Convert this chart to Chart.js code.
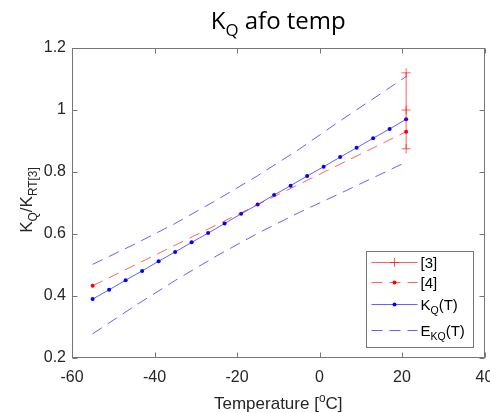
<!DOCTYPE html>
<html>
<head>
<meta charset="utf-8">
<script src="https://cdn.jsdelivr.net/npm/chart.js@4.4.0/dist/chart.umd.min.js"></script>
<style>
  html, body { margin: 0; padding: 0; background: #fff; overflow: hidden; }
  canvas { display: block; }
</style>
</head>
<body>
<canvas id="kqChart" width="490" height="413"></canvas>
<script>
// fitted K_Q(T), sampled every 4 degC
const temps = [-55, -51, -47, -43, -39, -35, -31, -27, -23, -19, -15, -11, -7, -3, 1, 5, 9, 13, 17, 21];
const kqFit = [0.390, 0.420, 0.451, 0.481, 0.512, 0.542, 0.573, 0.603, 0.634, 0.665,
               0.695, 0.726, 0.756, 0.787, 0.817, 0.848, 0.878, 0.909, 0.939, 0.970];

// uncertainty envelope E_KQ(T)
const bandTemps = [-55, -45, -35, -25, -15, -5, 5, 15, 21];
const bandUpper = [0.502, 0.566, 0.634, 0.709, 0.788, 0.873, 0.965, 1.054, 1.108];
const bandLower = [0.278, 0.366, 0.450, 0.529, 0.602, 0.669, 0.731, 0.794, 0.832];

// reference [4]: straight line, end points only
const ref4Temps = [-55, 21];
const ref4 = [0.433, 0.930];

// reference [3]: room temperature value with its spread
const ref3Temps = [21, 21, 21];
const ref3 = [0.875, 1.0, 1.12];

const xTicks = [-60, -40, -20, 0, 20, 40];
const yTicks = [0.2, 0.4, 0.6, 0.8, 1, 1.2];

const AXIS = '#262626';
const FRAME = '#767676';
const SANS = '"Liberation Sans", Arial, sans-serif';
const RED = '#ff0000';
const BLUE = '#0000ff';
const RED_LINE = 'rgba(255, 0, 0, 0.62)';
const BLUE_LINE = 'rgba(0, 0, 255, 0.62)';
const DASH = [11, 7];

function pts(xs, ys) {
    return xs.map((x, i) => ({ x: x, y: ys[i] }));
}

// text with sub/superscripts: parts = [[text, 'sub'|'sup'|undefined], ...]
function drawRich(ctx, parts, x, y, size, family, align) {
    let w = 0;
    parts.forEach(([t, k]) => {
        ctx.font = (k ? size * 0.7 : size) + 'px ' + family;
        w += ctx.measureText(t).width;
    });
    let cx = align === 'center' ? x - w / 2 : align === 'right' ? x - w : x;
    ctx.textAlign = 'left';
    ctx.textBaseline = 'alphabetic';
    parts.forEach(([t, k]) => {
        ctx.font = (k ? size * 0.7 : size) + 'px ' + family;
        const dy = k === 'sub' ? size * 0.3 : k === 'sup' ? -size * 0.42 : 0;
        ctx.fillText(t, cx, y + dy);
        cx += ctx.measureText(t).width;
    });
}

function seg(ctx, x1, y1, x2, y2) {
    ctx.beginPath();
    ctx.moveTo(x1, y1);
    ctx.lineTo(x2, y2);
    ctx.stroke();
}

const legendRows = [
    { ds: 0, label: [['[3]']], dy: 11 },
    { ds: 1, label: [['[4]']], dy: 31 },
    { ds: 2, label: [['K'], ['Q', 'sub'], ['(T)']], dy: 53 },
    { ds: 3, label: [['E'], ['KQ', 'sub'], ['(T)']], dy: 79 }
];

// box, inward ticks, titles and legend
const decorPlugin = {
    id: 'decor',
    afterDraw(chart) {
        const { ctx, chartArea: a, scales: { x, y } } = chart;
        const L = Math.round(a.left) + 0.5, R = Math.round(a.right) - 0.5;
        const T = Math.round(a.top) + 0.5, B = Math.round(a.bottom) - 0.5;
        ctx.save();
        ctx.strokeStyle = FRAME;
        ctx.lineWidth = 1;
        ctx.strokeRect(L, T, R - L, B - T);
        xTicks.forEach(v => {
            const px = Math.round(x.getPixelForValue(v)) + 0.5;
            seg(ctx, px, B, px, B - 5);
            seg(ctx, px, T, px, T + 5);
        });
        yTicks.forEach(v => {
            const py = Math.round(y.getPixelForValue(v)) + 0.5;
            seg(ctx, L, py, L + 5, py);
            seg(ctx, R, py, R - 5, py);
        });

        // title and axis labels
        ctx.fillStyle = '#000';
        drawRich(ctx, [['K'], ['Q', 'sub'], [' afo temp']], (a.left + a.right) / 2, 29, 24, '"Open Sans"', 'center');
        ctx.fillStyle = AXIS;
        drawRich(ctx, [['Temperature ['], ['o', 'sup'], ['C]']], (a.left + a.right) / 2, 409, 17, SANS, 'center');
        ctx.save();
        ctx.translate(32, (a.top + a.bottom) / 2 - 3);
        ctx.rotate(-Math.PI / 2);
        drawRich(ctx, [['K'], ['Q', 'sub'], ['/K'], ['RT[3]', 'sub']], 0, 0, 17, SANS, 'center');
        ctx.restore();

        // legend
        const lx = Math.round(a.right) - 118.5, ly = Math.round(a.top) + 203.5;
        ctx.fillStyle = '#fff';
        ctx.fillRect(lx, ly, 107, 96);
        ctx.strokeStyle = FRAME;
        ctx.strokeRect(lx, ly, 107, 96);
        legendRows.forEach(row => {
            const ds = chart.data.datasets[row.ds];
            const yy = ly + row.dy;
            ctx.strokeStyle = ds.borderColor;
            ctx.lineWidth = 1;
            ctx.setLineDash(ds.borderDash || []);
            seg(ctx, lx + 5, yy, lx + 51, yy);
            ctx.setLineDash([]);
            const mx = lx + 28;
            if (ds.pointStyle === 'cross') {
                ctx.strokeStyle = ds.pointBorderColor;
                seg(ctx, mx - 4.5, yy, mx + 4.5, yy);
                seg(ctx, mx, yy - 4.5, mx, yy + 4.5);
            } else if (ds.pointRadius > 0) {
                ctx.fillStyle = ds.pointBackgroundColor;
                ctx.beginPath();
                ctx.arc(mx, yy, ds.pointRadius, 0, Math.PI * 2);
                ctx.fill();
            }
            ctx.fillStyle = '#000';
            drawRich(ctx, row.label, lx + 54, yy + 5, 15, SANS, 'left');
        });
        ctx.restore();
    }
};

new Chart(document.getElementById('kqChart'), {
    type: 'line',
    data: {
        datasets: [
            {
                label: '[3]', data: pts(ref3Temps, ref3),
                borderColor: RED_LINE, borderWidth: 1,
                pointStyle: 'cross', pointRadius: 4.5, pointBorderColor: RED_LINE, pointBorderWidth: 1
            },
            {
                label: '[4]', data: pts(ref4Temps, ref4),
                borderColor: RED_LINE, borderWidth: 1, borderDash: DASH,
                pointStyle: 'circle', pointRadius: 2, pointBackgroundColor: RED, pointBorderWidth: 0
            },
            {
                label: 'KQ(T)', data: pts(temps, kqFit),
                borderColor: BLUE_LINE, borderWidth: 1,
                pointStyle: 'circle', pointRadius: 2, pointBackgroundColor: BLUE, pointBorderWidth: 0
            },
            {
                label: 'EKQ(T)', data: pts(bandTemps, bandUpper),
                borderColor: BLUE_LINE, borderWidth: 1, borderDash: DASH, pointRadius: 0
            },
            {
                label: 'EKQ(T) lower', data: pts(bandTemps, bandLower),
                borderColor: BLUE_LINE, borderWidth: 1, borderDash: DASH, pointRadius: 0
            }
        ]
    },
    options: {
        responsive: false,
        animation: false,
        devicePixelRatio: 1,
        layout: { padding: { top: 48, right: 5, left: 0, bottom: 0 } },
        elements: { line: { tension: 0 } },
        plugins: {
            legend: { display: false },
            title: { display: false },
            tooltip: { enabled: false }
        },
        scales: {
            x: {
                type: 'linear', min: -60, max: 40,
                grid: { display: false, drawTicks: false },
                border: { display: false },
                afterBuildTicks: s => { s.ticks = xTicks.map(v => ({ value: v })); },
                afterFit: s => { s.height = 55; s.paddingLeft = 0; s.paddingRight = 0; },
                ticks: {
                    color: AXIS, font: { family: SANS, size: 16 }, padding: 10,
                    maxRotation: 0, autoSkip: false,
                    callback: v => String(v)
                }
            },
            y: {
                type: 'linear', min: 0.2, max: 1.2,
                grid: { display: false, drawTicks: false },
                border: { display: false },
                afterBuildTicks: s => { s.ticks = yTicks.map(v => ({ value: v })); },
                afterFit: s => { s.width = 72; s.paddingTop = 0; s.paddingBottom = 0; },
                ticks: {
                    color: AXIS, font: { family: SANS, size: 16 }, padding: 6,
                    autoSkip: false,
                    callback: v => String(+v.toFixed(1))
                }
            }
        }
    },
    plugins: [decorPlugin]
});
</script>
</body>
</html>
